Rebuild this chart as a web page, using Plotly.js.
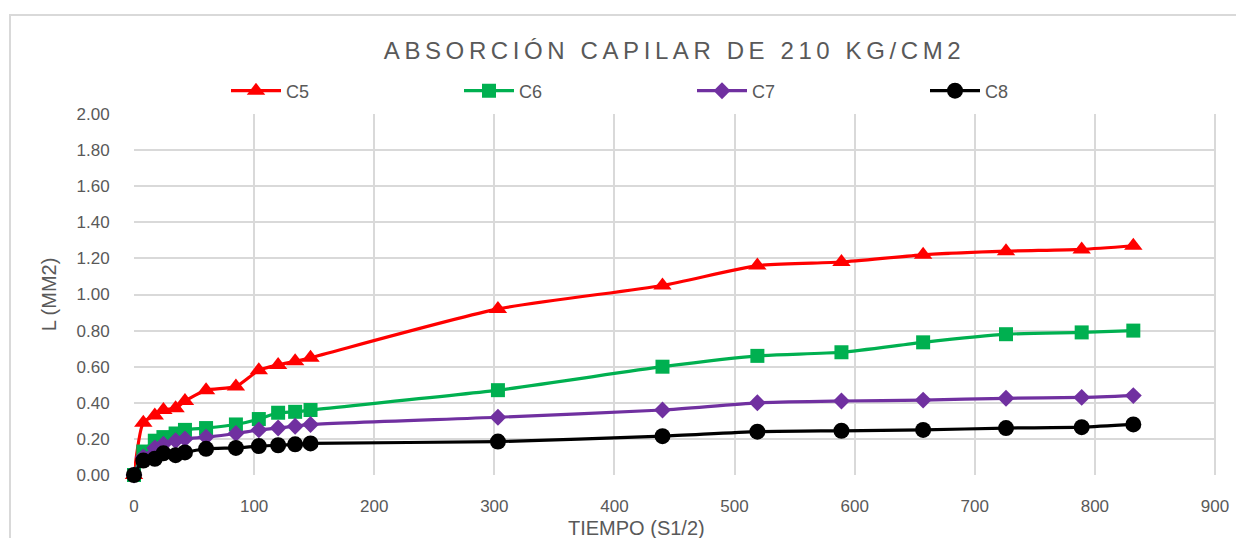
<!DOCTYPE html>
<html>
<head>
<meta charset="utf-8">
<script src="https://cdn.plot.ly/plotly-3.0.1.min.js"></script>
<style>
html,body{margin:0;padding:0;background:#fff;}
#chart{width:1236px;height:538px;}
.gtitle{letter-spacing:4.6px;}
</style>
</head>
<body>
<div id="chart"></div>
<script>
// Tiempo (s^1/2)
var tiempo = [0, 7.75, 17.32, 24.49, 34.64, 42.43, 60, 84.85, 103.92, 120, 134.16, 146.97, 303, 440, 519, 589, 657, 726, 789, 832];
var c5 = [0, 0.29, 0.33, 0.36, 0.37, 0.41, 0.47, 0.49, 0.58, 0.61, 0.63, 0.65, 0.92, 1.05, 1.16, 1.18, 1.22, 1.24, 1.25, 1.27];
var c6 = [0, 0.13, 0.19, 0.21, 0.23, 0.25, 0.26, 0.28, 0.31, 0.345, 0.35, 0.36, 0.47, 0.60, 0.66, 0.68, 0.735, 0.78, 0.79, 0.80];
var c7 = [0, 0.10, 0.15, 0.17, 0.19, 0.20, 0.21, 0.23, 0.25, 0.26, 0.27, 0.28, 0.32, 0.36, 0.40, 0.41, 0.415, 0.425, 0.43, 0.44];
var c8 = [0, 0.08, 0.09, 0.12, 0.11, 0.125, 0.145, 0.15, 0.16, 0.165, 0.17, 0.175, 0.185, 0.215, 0.24, 0.245, 0.25, 0.26, 0.265, 0.28];
var seriesNames = ['C5', 'C6', 'C7', 'C8'];
var xTicks = [0, 100, 200, 300, 400, 500, 600, 700, 800, 900];
var yTicks = [0, 0.2, 0.4, 0.6, 0.8, 1.0, 1.2, 1.4, 1.6, 1.8, 2.0];

var colors = ['#FF0000', '#00B050', '#7030A0', '#000000'];
var symbols = ['triangle-up', 'square', 'diamond', 'circle'];
var sizes = [16, 14, 13, 16];
var ys = [c5, c6, c7, c8];

var traces = ys.map(function (y, i) {
  return {
    x: tiempo, y: y, name: seriesNames[i], type: 'scatter', mode: 'lines+markers', cliponaxis: false,
    line: {color: colors[i], width: 3.2, shape: 'spline', smoothing: 0.6},
    marker: {color: colors[i], symbol: symbols[i], size: sizes[i]}
  };
});

var L = 134, R = 21, T = 114, B = 63;
var W = 1236 - L - R, H = 538 - T - B;
function px2x(p) { return (p - L) / W; }
function py2y(p) { return (538 - B - p) / H; }

var fontFam = '"Liberation Sans", Arial, sans-serif';
var grey = '#595959';

var layout = {
  width: 1236, height: 538,
  margin: {l: L, r: R, t: T, b: B},
  paper_bgcolor: '#fff', plot_bgcolor: '#fff',
  font: {family: fontFam, color: grey, size: 17},
  title: {text: 'ABSORCIÓN CAPILAR DE 210 KG/CM2', font: {family: fontFam, size: 24, color: grey},
          x: 0.5, xref: 'paper', xanchor: 'center', y: 1 - 51 / 538, yref: 'container', yanchor: 'middle'},
  showlegend: true,
  legend: {orientation: 'h', x: px2x(226), xanchor: 'left', y: py2y(91), yanchor: 'middle',
           font: {family: fontFam, size: 18, color: grey}, itemwidth: 50,
           entrywidth: 168, entrywidthmode: 'pixels', bgcolor: 'rgba(0,0,0,0)', traceorder: 'normal'},
  xaxis: {range: [0, 900], tickvals: xTicks, ticktext: xTicks.map(String), showgrid: true,
          gridcolor: '#D9D9D9', gridwidth: 2, zeroline: false, showline: false,
          ticks: 'outside', ticklen: 16, tickcolor: 'rgba(0,0,0,0)',
          tickfont: {family: fontFam, size: 17, color: grey}},
  yaxis: {range: [0, 2], tickvals: yTicks, ticktext: yTicks.map(function (v) { return v.toFixed(2); }),
          showgrid: true, gridcolor: '#D9D9D9', gridwidth: 2, zeroline: false, showline: false,
          ticks: 'outside', ticklen: 20, tickcolor: 'rgba(0,0,0,0)',
          tickfont: {family: fontFam, size: 17, color: grey},
          title: {text: 'L (MM2)', font: {family: fontFam, size: 20, color: grey}, standoff: 14}},
  annotations: [
    {text: 'TIEMPO (S1/2)', xref: 'paper', yref: 'paper', x: px2x(636), y: py2y(528),
     xanchor: 'center', yanchor: 'middle', showarrow: false,
     font: {family: fontFam, size: 20, color: grey}}
  ],
  shapes: [
    {type: 'line', xref: 'paper', yref: 'paper', x0: px2x(10), x1: px2x(10), y0: py2y(15), y1: py2y(545),
     line: {color: '#D9D9D9', width: 2}},
    {type: 'line', xref: 'paper', yref: 'paper', x0: px2x(9), x1: px2x(1240), y0: py2y(15), y1: py2y(15),
     line: {color: '#D9D9D9', width: 2}},
    {type: 'line', xref: 'paper', yref: 'paper', x0: 1, x1: 1, y0: 0, y1: 1,
     line: {color: '#D9D9D9', width: 2}, layer: 'below'}
  ]
};

Plotly.newPlot('chart', traces, layout, {displayModeBar: false, staticPlot: true});
</script>
</body>
</html>
